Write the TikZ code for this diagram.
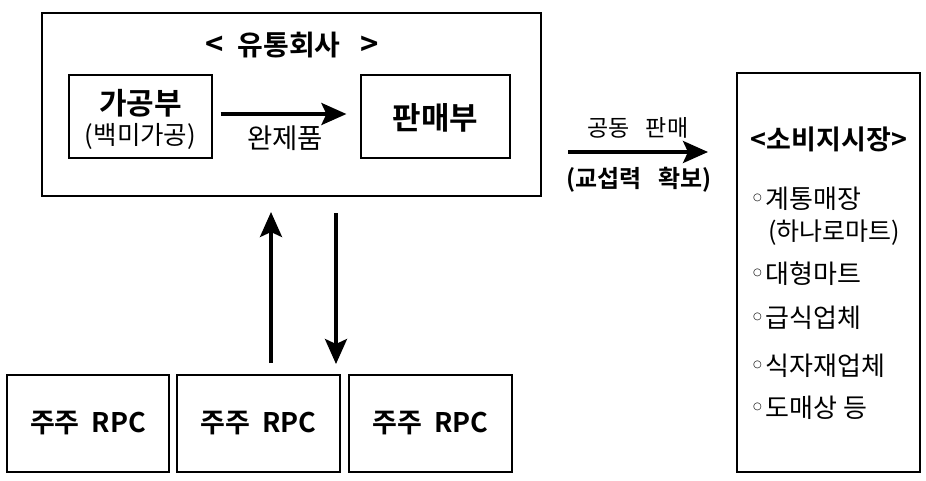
\documentclass[tikz,border=0pt]{standalone}
\usepackage{fontspec}
\usetikzlibrary{arrows.meta,calc}
\newfontfamily\kr{Noto Sans CJK KR}
\newfontfamily\krb{Noto Sans CJK KR Bold}
\newfontfamily\dejavu{DejaVu Sans}
\newcommand{\bul}{\raisebox{8pt}{\dejavu\fontsize{10pt}{10pt}\selectfont ○}\hspace{4pt}}
\tikzset{
  outerbox/.style={draw, line width=2pt, inner sep=0pt},
  innerbox/.style={draw, line width=1.2pt, inner sep=0pt},
  rpcbox/.style={outerbox, minimum width=163pt, minimum height=97pt, font=\krb\fontsize{27pt}{29pt}\selectfont},
  bigarrow/.style={line width=3.6pt, -{Stealth[length=25pt,width=22pt,inset=5pt]}},
  reg/.style={font=\kr\fontsize{25pt}{27pt}\selectfont, inner sep=0pt},
  bold/.style={font=\krb\fontsize{27pt}{29pt}\selectfont, inner sep=0pt},
  item/.style={font=\kr\fontsize{26pt}{28pt}\selectfont, inner sep=0pt, anchor=west},
}
\begin{document}
\begin{tikzpicture}[x=1pt,y=-1pt]
\useasboundingbox (0,0) rectangle (926,480);
% boxes
\node[outerbox, minimum width=499pt, minimum height=183pt] (outer) at (291.5,104.5) {};
\node[innerbox, minimum width=143pt, minimum height=83pt] (gong) at (140.5,116.5) {};
\node[innerbox, minimum width=149pt, minimum height=83pt] (pan) at (435.5,116.5) {};
\node[bold, font=\krb\fontsize{31pt}{33pt}\selectfont] (pant) at (435.5,118) {판매부};
\node[outerbox, minimum width=183pt, minimum height=399pt] (market) at (828.5,272.5) {};
\node[rpcbox, minimum width=162pt] (rpc1) at (88,423.5) {주주\hspace{12pt}RPC};
\node[rpcbox] (rpc2) at (258.5,423.5) {주주\hspace{12pt}RPC};
\node[rpcbox] (rpc3) at (430.5,423.5) {주주\hspace{12pt}RPC};
% texts in company box
\node[bold, font=\krb\fontsize{28pt}{30pt}\selectfont] (title) at (292,45) {{\fontsize{31pt}{31pt}\selectfont<}\hspace{14pt}유통회사\hspace{20pt}{\fontsize{31pt}{31pt}\selectfont>}};
\node[bold, font=\krb\fontsize{30pt}{32pt}\selectfont] (gongt) at (140.5,103) {가공부};
\node[reg, font=\kr\fontsize{25.5pt}{27pt}\selectfont] (gongs) at (140.5,136) {(백미가공)};
\node[reg, font=\kr\fontsize{27.5pt}{29pt}\selectfont] (wan) at (285,138) {완제품};
% company arrows
\draw[bigarrow] ([xshift=8pt,yshift=2.5pt]gong.east) -- ([xshift=-14pt,yshift=2.5pt]pan.west);
\draw[bigarrow] (271,0 |- rpc2.north) ++(0,-11) -- (271,212);
\draw[bigarrow] (336,213) -- ($(336,0 |- rpc2.north)+(0,-10)$);
% market arrow
\coordinate (m1) at (568,152);
\coordinate (m2) at (708,152);
\draw[bigarrow] (m1) -- (m2);
\node[reg, font=\kr\fontsize{23pt}{25pt}\selectfont] (joint) at (638,128) {공동\hspace{16pt}판매};
\node[bold, font=\krb\fontsize{24pt}{26pt}\selectfont] (nego) at (639,180) {(교섭력\hspace{16pt}확보)};
% market list
\node[bold, font=\krb\fontsize{27pt}{29pt}\selectfont] (mtitle) at (829,139) {<소비지시장>};
\node[item] (i1) at (753,199) {\bul 계통매장};
\node[item, font=\kr\fontsize{25pt}{27pt}\selectfont] (i1b) at (768,233) {(하나로마트)};
\node[item] (i2) at (753,274) {\bul 대형마트};
\node[item] (i3) at (753,318) {\bul 급식업체};
\node[item] (i4) at (753,366) {\bul 식자재업체};
\node[item] (i5) at (753,408) {\bul 도매상 등};
\end{tikzpicture}
\end{document}
